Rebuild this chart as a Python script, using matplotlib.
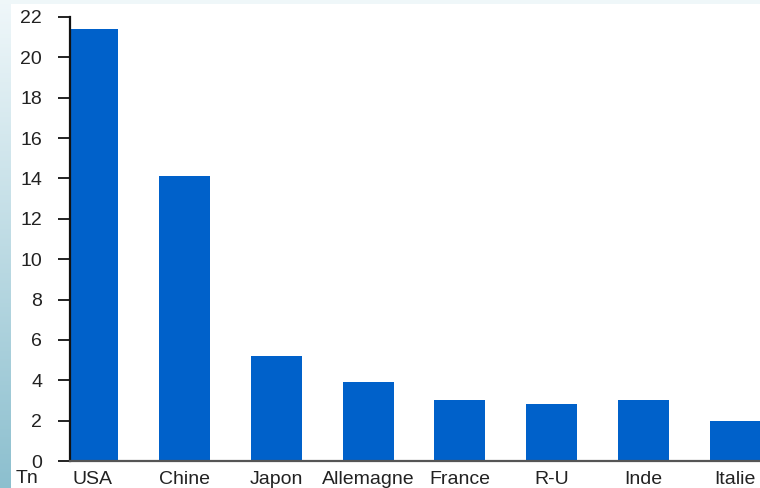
import numpy as np
import matplotlib
matplotlib.use("Agg")
import matplotlib.pyplot as plt
from matplotlib.patches import Rectangle

plt.rcParams['font.family'] = ['Liberation Sans', 'DejaVu Sans']

pays = ["USA", "Chine", "Japon", "Allemagne", "France", "R-U", "Inde", "Italie"]
pib = [21.4, 14.1, 5.2, 3.9, 3.0, 2.8, 3.0, 2.0]
yticks = [0, 2, 4, 6, 8, 10, 12, 14, 16, 18, 20, 22]
unite = "Tn"

W, H = 760, 488
fig = plt.figure(figsize=(W / 100, H / 100), dpi=100)

# slide background: pale blue gradient on the left edge, white panel
bg = fig.add_axes([0, 0, 1, 1], zorder=-10)
bg.set_axis_off()
grad = np.linspace(0, 1, 256).reshape(-1, 1)
top = np.array([0.94, 0.97, 0.98])
bot = np.array([0.55, 0.75, 0.81])
img = top + (bot - top) * grad[..., None]
bg.imshow(img, extent=[0, 1, 0, 1], aspect="auto", origin="upper")
bg.add_patch(Rectangle((11 / W, 0), 1, 1 - 4 / H, transform=bg.transAxes,
                       facecolor="white", edgecolor="none"))
bg.set_xlim(0, 1)
bg.set_ylim(0, 1)

ax = fig.add_axes([70 / W, 27 / H, 1 - 70 / W, (461 - 17) / H])
ax.patch.set_alpha(0)
x = np.arange(len(pays))
ax.bar(x, pib, width=0.556, color="#0061ca", zorder=2)
ax.set_xlim(-0.248, 7.27)
ax.set_ylim(0, 22)
ax.set_yticks(yticks)
ax.set_xticks(x)
ax.set_xticklabels(pays)

for s in ["top", "right"]:
    ax.spines[s].set_visible(False)
ax.spines["left"].set_linewidth(1.6)
ax.spines["left"].set_color("#111111")
ax.spines["left"].set_zorder(3)
ax.spines["bottom"].set_linewidth(1.6)
ax.spines["bottom"].set_color("#555555")
ax.spines["bottom"].set_zorder(3)
ax.tick_params(axis="y", direction="out", length=9, width=1.4, color="#222222",
               pad=11, labelsize=14, labelcolor="#222222")
ax.tick_params(axis="x", length=0, pad=7, labelsize=14, labelcolor="#222222")

fig.text(16 / W, 1 - 478.5 / H, unite, fontsize=14, color="#222222",
         ha="left", va="center")

fig.savefig("out.png", dpi=100)
